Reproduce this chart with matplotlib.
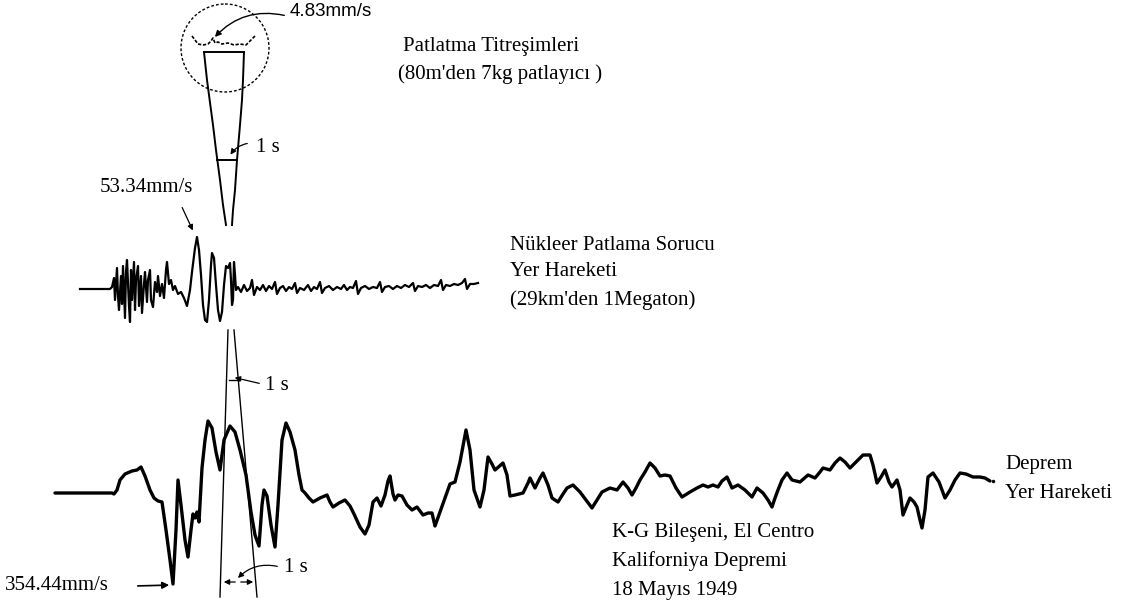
import matplotlib
matplotlib.use("Agg")
import matplotlib.pyplot as plt
from matplotlib.patches import Circle

plt.rcParams['font.family'] = ['Liberation Serif', 'DejaVu Serif']

W, H = 1135, 604

# Nuclear blast ground motion (time position, amplitude position)
nuc_t = [80, 110, 112, 114, 115, 117, 118, 119, 121, 122,
         123, 125, 126, 127, 129, 130, 131, 132, 134, 135,
         136, 138, 139, 141, 142, 144, 145, 147, 148, 150,
         151, 153, 155, 157, 158, 160, 162, 164, 166, 167,
         169, 171, 173, 175, 178, 181, 184, 187, 190, 192,
         195, 197, 199, 201, 203, 205, 207, 209, 211, 212,
         214, 216, 218, 220, 222, 224, 226, 228, 230, 231,
         232, 233, 234, 235, 236, 238,
         241, 244, 247, 250, 252, 254, 257, 260, 263, 266,
         269, 272, 275, 277, 280, 283, 286, 289, 292, 295,
         297, 300, 304, 308, 311, 314, 317, 320, 322, 325,
         329, 333, 337, 341, 344, 347, 350, 353, 356, 358,
         361, 365, 369, 373, 377, 380, 382, 385, 389, 393,
         397, 401, 405, 409, 413, 415, 418, 422, 426, 430,
         434, 438, 441, 443, 446, 450, 454, 458, 462, 465,
         467, 470, 474, 478]
nuc_v = [289, 289, 287, 278, 300, 268, 296, 310, 276, 304,
         266, 318, 272, 260, 306, 322, 270, 300, 262, 310,
         280, 266, 306, 276, 313, 284, 272, 302, 280, 270,
         300, 307, 282, 292, 276, 296, 284, 298, 270, 262,
         284, 280, 290, 286, 294, 292, 298, 306, 290, 272,
         248, 237, 250, 275, 305, 320, 322, 300, 265, 253,
         258, 285, 310, 321, 312, 285, 266, 268, 263, 280,
         305, 300, 262, 275, 290, 287,
         292, 285, 291, 288, 280, 295, 287, 290, 285, 291,
         286, 289, 282, 294, 288, 286, 291, 287, 289, 283,
         293, 288, 290, 285, 291, 287, 289, 282, 293, 288,
         286, 290, 287, 289, 285, 290, 287, 288, 281, 294,
         288, 286, 289, 287, 288, 282, 292, 287, 286, 289,
         286, 288, 285, 287, 283, 291, 286, 287, 285, 288,
         285, 286, 280, 290, 285, 286, 284, 285, 283, 279,
         289, 284, 284, 283]

# El Centro 1949 N-S ground motion
quake_t = [55, 112, 114, 117, 120, 125, 132, 137, 141, 145,
           150, 154, 158, 162, 166, 170, 173, 176, 178, 181,
           185, 188, 191, 193, 195, 197, 199, 202, 205, 208,
           212, 216, 220, 224, 230, 235, 240, 246, 251, 255,
           259, 262, 264, 267, 271, 275, 278, 282, 286, 290,
           295, 299, 302, 305, 309, 313, 320, 327, 330, 333,
           339, 345, 350, 354, 360, 365, 369, 373, 377, 381,
           385, 388, 390, 393, 395, 398, 402, 407, 412, 417,
           423, 428, 432, 435, 440, 445, 450, 455, 460, 466,
           470, 474, 480, 484, 488, 492, 495, 503, 507, 510,
           515, 523, 528, 530, 535, 540, 543, 548, 552, 558,
           563, 567, 573, 580, 586, 592, 597, 602, 610, 617,
           623, 628, 632, 636, 640, 645, 650, 655, 660, 665,
           670, 676, 682, 690, 697, 703, 708, 713, 718, 722,
           727, 732, 738, 745, 752, 757, 763, 768, 772, 775,
           778, 782, 787, 792, 800, 808, 815, 820, 823, 830,
           835, 840, 845, 850, 856, 863, 870, 873, 877, 881,
           885, 889, 892, 897, 900, 903, 907, 910, 914, 917,
           920, 922, 925, 928, 933, 939, 945, 950, 955, 960,
           966, 973, 980, 985, 990]
quake_v = [493, 493, 494, 490, 480, 474, 471, 470, 467, 476,
           490, 498, 501, 502, 530, 560, 584, 530, 480, 505,
           540, 557, 530, 514, 518, 512, 522, 468, 440, 421,
           428, 452, 470, 440, 426, 432, 450, 475, 512, 535,
           546, 505, 490, 496, 525, 547, 505, 440, 423, 432,
           450, 475, 490, 493, 498, 502, 498, 495, 502, 507,
           503, 500, 506, 514, 527, 534, 525, 502, 498, 506,
           495, 481, 476, 494, 500, 495, 496, 505, 510, 507,
           515, 513, 513, 526, 512, 498, 484, 482, 462, 430,
           450, 490, 507, 490, 457, 464, 470, 463, 475, 496,
           495, 493, 483, 478, 488, 478, 473, 485, 498, 502,
           494, 488, 485, 492, 500, 508, 500, 492, 488, 490,
           482, 488, 495, 488, 480, 472, 463, 468, 476, 475,
           476, 488, 497, 492, 488, 485, 487, 485, 487, 481,
           477, 488, 485, 490, 497, 488, 493, 500, 507, 498,
           490, 480, 473, 480, 482, 475, 478, 472, 468, 470,
           463, 458, 462, 468, 462, 455, 455, 465, 483, 477,
           470, 482, 487, 480, 490, 515, 505, 498, 502, 507,
           520, 528, 510, 477, 473, 482, 498, 490, 480, 473,
           474, 477, 477, 478, 481]

# Blasting vibration (shown at a magnified scale inside the circle)
blast_t = [192, 198, 203, 208, 211, 213, 215, 218, 222, 228, 234, 240, 246, 255]
blast_v = [36, 44, 45, 44, 41, 38, 43, 42, 44, 43, 45, 44, 45, 36]

# Peak values
blast_peak = "4.83mm/s"
nuc_peak = "53.34mm/s"
quake_peak = "354.44mm/s"

fig = plt.figure(figsize=(W / 100, H / 100), dpi=100)
ax = fig.add_axes([0, 0, 1, 1])
ax.set_xlim(0, W)
ax.set_ylim(H, 0)
ax.axis('off')

ink = 'black'
fs = 15

# traces
ax.plot(quake_t, quake_v, color=ink, lw=2.4, solid_joinstyle='round', solid_capstyle='round')
ax.plot(nuc_t, nuc_v, color=ink, lw=1.6, solid_joinstyle='round')
ax.plot(blast_t, blast_v, color=ink, lw=1.2, ls=(0, (2, 1)))

# magnifier circle around the blasting record
ax.add_patch(Circle((225, 48), 44, fill=False, ec=ink, lw=1.0, ls=(0, (2, 1.5))))

# upper 1 s funnel
ax.plot([204, 244], [52, 52], color=ink, lw=1.4)
ax.plot([204, 207, 209, 213, 216, 220, 223, 226], [52, 80, 95, 125, 150, 180, 205, 225], color=ink, lw=1.4)
ax.plot([244, 243, 242, 240, 237, 235, 233, 232], [52, 80, 100, 125, 160, 190, 210, 225], color=ink, lw=1.4)
ax.plot([217, 237], [160, 160], color=ink, lw=1.4)
ax.annotate('', xy=(229, 157), xytext=(250, 143),
            arrowprops=dict(arrowstyle='-|>', color=ink, lw=0.9, mutation_scale=8,
                            connectionstyle='arc3,rad=0.25'))
ax.text(256, 148, '1 s', fontsize=fs, va='center', ha='left')

# lower 1 s funnel
ax.plot([228, 220], [330, 597], color=ink, lw=1.0)
ax.plot([234, 257], [330, 597], color=ink, lw=1.0)
ax.plot([229, 240], [380, 380], color=ink, lw=1.0)
ax.annotate('', xy=(232, 377), xytext=(262, 384),
            arrowprops=dict(arrowstyle='-|>', color=ink, lw=0.9, mutation_scale=8))
ax.text(265, 385, '1 s', fontsize=fs, va='center', ha='left')
ax.annotate('', xy=(221, 582), xytext=(238, 582),
            arrowprops=dict(arrowstyle='-|>', color=ink, lw=0.9, mutation_scale=8))
ax.annotate('', xy=(256, 582), xytext=(238, 582),
            arrowprops=dict(arrowstyle='-|>', color=ink, lw=0.9, mutation_scale=8))
ax.annotate('', xy=(236, 580), xytext=(280, 567),
            arrowprops=dict(arrowstyle='-|>', color=ink, lw=0.9, mutation_scale=8,
                            connectionstyle='arc3,rad=0.3'))
ax.text(284, 568, '1 s', fontsize=fs, va='center', ha='left')

# peak annotations
ax.annotate('', xy=(213, 39), xytext=(287, 16),
            arrowprops=dict(arrowstyle='-|>', color=ink, lw=1.0, mutation_scale=9,
                            connectionstyle='arc3,rad=0.3'))
ax.text(290, 12, blast_peak, fontsize=fs - 1.5, va='center', ha='left',
        family=['Liberation Sans', 'DejaVu Sans'])
ax.annotate('', xy=(194, 233), xytext=(181, 205),
            arrowprops=dict(arrowstyle='-|>', color=ink, lw=0.9, mutation_scale=8))
ax.text(100, 188, nuc_peak, fontsize=fs, va='center', ha='left')
ax.annotate('', xy=(172, 585), xytext=(135, 586),
            arrowprops=dict(arrowstyle='-|>', color=ink, lw=1.2, mutation_scale=10))
ax.text(5, 586, quake_peak, fontsize=fs, va='center', ha='left')
ax.plot([993], [481], marker='o', ms=1.5, color=ink)

# captions
ax.text(403, 46, 'Patlatma Titreşimleri', fontsize=fs, va='center', ha='left')
ax.text(398, 74, "(80m'den 7kg patlayıcı )", fontsize=fs, va='center', ha='left')
ax.text(510, 245, 'Nükleer Patlama Sorucu', fontsize=fs, va='center', ha='left')
ax.text(510, 272, 'Yer Hareketi', fontsize=fs, va='center', ha='left')
ax.text(510, 300, "(29km'den 1Megaton)", fontsize=fs, va='center', ha='left')
ax.text(1005, 465, 'Deprem', fontsize=fs, va='center', ha='left')
ax.text(1005, 493, 'Yer Hareketi', fontsize=fs, va='center', ha='left')
ax.text(612, 532, 'K-G Bileşeni, El Centro', fontsize=fs, va='center', ha='left')
ax.text(612, 561, 'Kaliforniya Depremi', fontsize=fs, va='center', ha='left')
ax.text(612, 590, '18 Mayıs 1949', fontsize=fs, va='center', ha='left')

fig.savefig('out.png', dpi=100, facecolor='white')
